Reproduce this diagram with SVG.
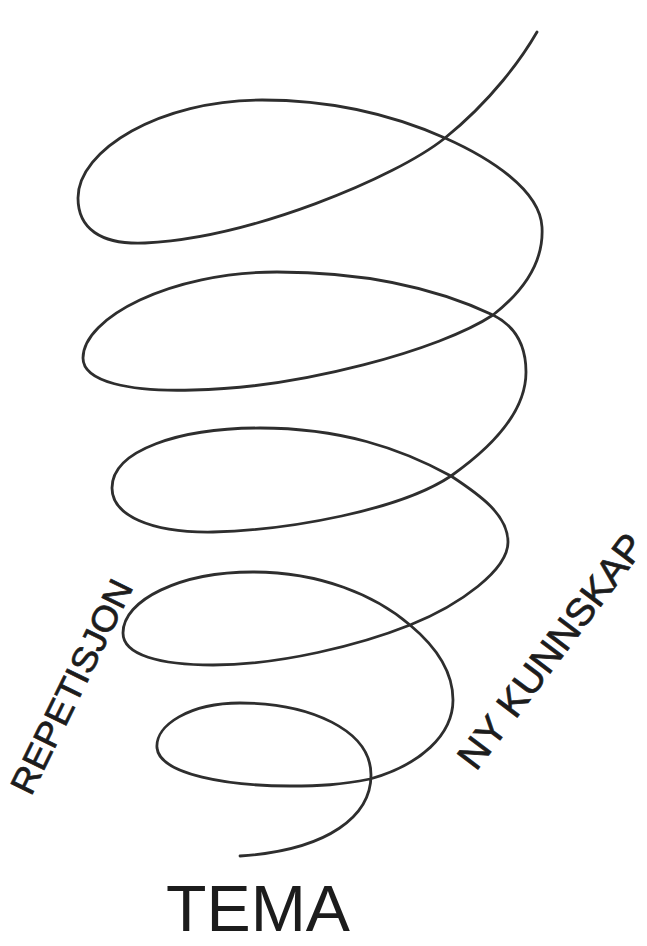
<svg xmlns="http://www.w3.org/2000/svg" width="647" height="946" viewBox="0 0 647 946">
<style>
.spiral{fill:none;stroke:#2e2e2e;stroke-width:2.8;stroke-linecap:round;stroke-linejoin:round}
.hand{fill:#1c1c1c;stroke:#1c1c1c;stroke-width:0.7;font-family:"Liberation Sans","DejaVu Sans",sans-serif}
.tema{fill:#1c1c1c;font-family:"Liberation Sans","DejaVu Sans",sans-serif}
</style>
<rect width="647" height="946" fill="#fff"/>
<g id="spiral">
<path class="spiral" d="M537,32 C522,58 492,100 445,138 C395,178 250,238 145,243 C100,245 78,228 78,198 C78,150 160,100 262,100 C340,100 400,118 445,138 C490,158 540,190 542,227 C544,262 525,290 493,315 C440,350 300,388 193,390 C130,392 83,382 83,358 C83,318 170,272 277,272 C370,272 440,290 493,315 C515,326 526,345 526,372 C526,410 495,445 451,476 C400,510 290,530 213,532 C150,533 112,515 112,488 C112,450 180,428 260,428 C340,428 400,448 451,476 C480,495 508,515 508,542 C508,570 460,605 410,625 C360,645 280,665 213,665 C160,665 123,655 123,633 C123,600 180,572 253,572 C320,572 375,595 410,625 C440,650 453,675 453,700 C453,735 420,765 370,779 C340,785 320,786 290,786 C230,786 160,775 157,748 C155,725 190,703 240,703 C310,703 371,730 371,775 C371,815 330,850 240,856"/>
</g>
<g id="label-repetisjon">
<text class="hand" font-size="35" textLength="234" lengthAdjust="spacingAndGlyphs" transform="translate(31,797) rotate(-63.9)">REPETISJON</text>
</g>
<g id="label-ny-kunnskap">
<text class="hand" font-size="38" textLength="283" lengthAdjust="spacingAndGlyphs" transform="translate(476,772) rotate(-53)">NY KUNNSKAP</text>
</g>
<g id="label-tema">
<text class="tema" x="166" y="931" font-size="64" textLength="184" lengthAdjust="spacingAndGlyphs">TEMA</text>
</g>
</svg>
